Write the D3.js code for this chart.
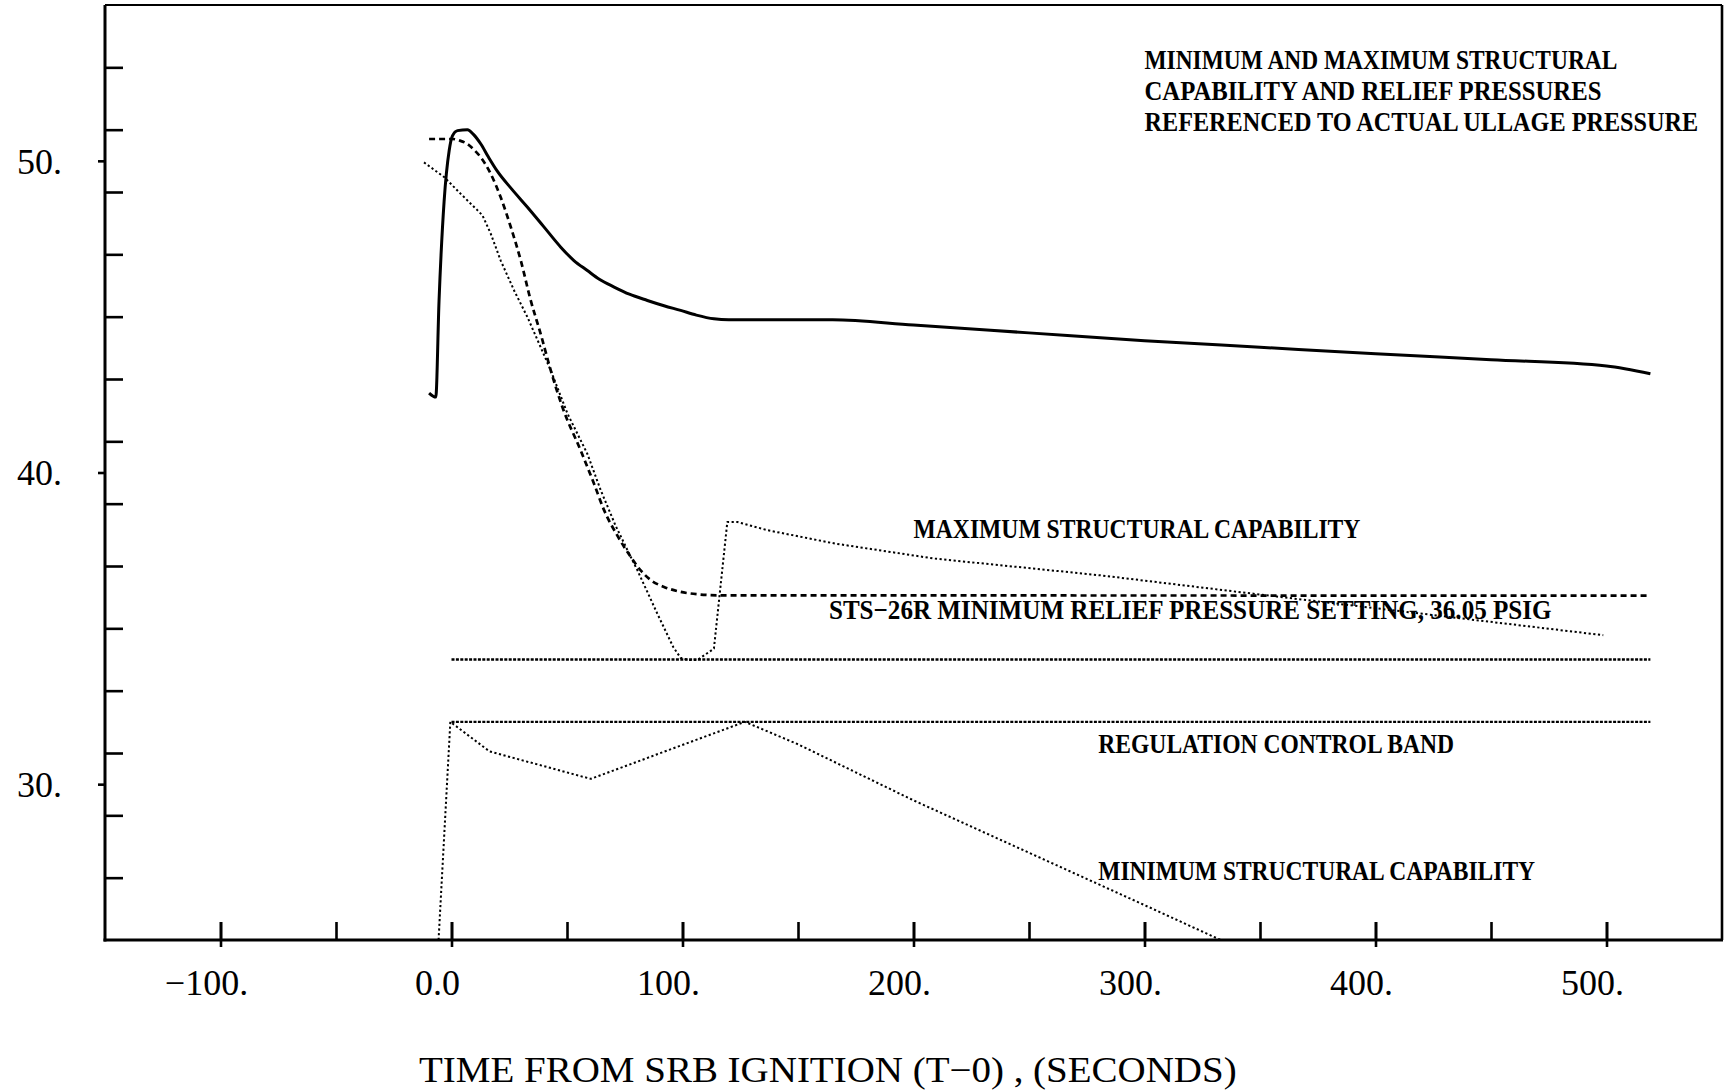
<!DOCTYPE html>
<html><head><meta charset="utf-8">
<script src="https://cdn.jsdelivr.net/npm/d3@7"></script>
<style>
html,body{margin:0;padding:0;background:#fff;}
svg{display:block;background:#fff;}
</style></head><body>
<svg id="chart" width="1728" height="1091"></svg>
<script>
// ---------------- DATA ----------------
const xDomain = [-150, 550];
const yDomain = [25, 55];
const xMinorTicks = [-100,-50,0,50,100,150,200,250,300,350,400,450,500];
const xLabelTicks = [-100,0,100,200,300,400,500];
const xTickLabels = ["\u2212100.","0.0","100.","200.","300.","400.","500."];
const yMinorTicks = [27,29,31,33,35,37,39,41,43,45,47,49,51,53];
const yLabelTicks = [30,40,50];
const yTickLabels = ["30.","40.","50."];

// solid curve (pressure)
const solidCurve = [[-9.7,42.55],[-6.8,42.42],[-5.4,45.5],[-3.2,48.7],[-1.0,50.33],[0.4,50.8],[2.6,50.97],[6.9,51.0],[9.5,50.85],[12.7,50.54],[16,50.12],[19.9,49.66],[26,49.1],[32.9,48.51],[40,47.88],[47.3,47.23],[53,46.8],[58.8,46.48],[64,46.2],[70.4,45.95],[77,45.72],[84.8,45.52],[92,45.35],[99.2,45.2],[106,45.05],[113.6,44.93],[120,44.9],[142.5,44.9],[165,44.9],[200,44.73],[250,44.48],[300,44.23],[350,44.02],[400,43.81],[450,43.62],[500,43.42],[519,43.17]];
// dashed curve (relief pressure)
const reliefCurve = [[-9.7,50.7],[0.4,50.7],[3.5,50.65],[6.9,50.54],[9.8,50.35],[12.7,50.11],[17.0,49.58],[21.3,48.83],[25.7,47.87],[30.0,46.8],[34.3,45.52],[38.6,44.45],[43.0,43.27],[48.0,42.1],[55.9,40.71],[61.7,39.64],[66,38.8],[72,37.95],[77.6,37.29],[82,36.85],[86.4,36.54],[92,36.33],[99.2,36.17],[107,36.09],[115.1,36.06],[519,36.05]];
// dotted: maximum structural capability
const maxStructural = [[-11.9,49.95],[-3.2,49.48],[4.0,48.94],[11.3,48.41],[13.4,48.25],[17.0,47.66],[21.3,46.8],[27.1,45.84],[32.9,44.98],[38.6,44.02],[43.0,43.27],[50.2,41.89],[58.8,40.6],[64.6,39.43],[71,38.3],[77.6,37.29],[80.5,36.86],[89.1,35.47],[96,34.4],[99.2,34.05],[103,33.98],[106.4,33.98],[113.6,34.35],[119.4,38.41],[123.8,38.41],[136.7,38.15],[166,37.72],[208.8,37.24],[281,36.7],[357.3,36.02],[498.6,34.78]];
// dotted: minimum structural capability
const minStructural = [[-5.6,25.0],[-0.5,32.0],[16.5,31.05],[60.3,30.17],[127,32.0],[150,31.28],[200,29.48],[250,27.8],[300,26.12],[333,25.0]];
// regulation control band
const bandUpper = [[0,34.0],[519,34.0]];
const bandLower = [[0,32.0],[519,32.0]];

const titleLines = ["MINIMUM AND MAXIMUM STRUCTURAL","CAPABILITY AND RELIEF PRESSURES","REFERENCED TO ACTUAL ULLAGE PRESSURE"];
const curveLabels = ["MAXIMUM STRUCTURAL CAPABILITY","STS\u221226R MINIMUM RELIEF PRESSURE SETTING, 36.05 PSIG","REGULATION CONTROL BAND","MINIMUM STRUCTURAL CAPABILITY"];
const xAxisTitle = "TIME FROM SRB IGNITION (T\u22120) , (SECONDS)";

// ---------------- LAYOUT ----------------
const plot = {left:105, right:1722, top:5, bottom:940};
const titleAnchor = {x:300, y:[52.95,51.95,50.96], w:[473,457,554]};
const labelAnchor = [{x:200,y:37.91,w:447},{x:163.4,y:35.31,w:723},{x:280,y:31.0,w:356},{x:280,y:26.92,w:437}];

const svg = d3.select("#chart");
svg.append("rect").attr("width",1728).attr("height",1091).attr("fill","#fff");

const x = d3.scaleLinear().domain(xDomain).range([plot.left, plot.right]);
const y = d3.scaleLinear().domain(yDomain).range([plot.bottom, plot.top]);

// ---- axes ----
const gxMinor = svg.append("g").attr("transform",`translate(0,${plot.bottom})`)
  .call(d3.axisBottom(x).tickValues(xMinorTicks).tickSize(-18).tickFormat(""));
const gxMajor = svg.append("g").attr("transform",`translate(0,${plot.bottom})`)
  .call(d3.axisBottom(x).tickValues(xLabelTicks).tickSize(7).tickPadding(22.4)
    .tickFormat((d,i)=>xTickLabels[i]));
const gyMinor = svg.append("g").attr("transform",`translate(${plot.left},0)`)
  .call(d3.axisLeft(y).tickValues(yMinorTicks).tickSize(-18).tickFormat(""));
const gyMajor = svg.append("g").attr("transform",`translate(${plot.left},0)`)
  .call(d3.axisLeft(y).tickValues(yLabelTicks).tickSize(7).tickPadding(36)
    .tickFormat((d,i)=>yTickLabels[i]));
[gxMinor,gxMajor,gyMinor,gyMajor].forEach(g=>{
  g.select(".domain").remove();
  g.selectAll(".tick line").attr("stroke","#000").attr("stroke-width",2.6);
  g.selectAll("text").attr("fill","#000").attr("font-family","'Liberation Serif', serif").attr("font-size",36);
});
gxMajor.selectAll(".tick line").attr("y1",-18);
gxMajor.selectAll("text").attr("dx",-14.5);
gyMajor.selectAll("text").attr("dy","0.34em");

// frame
svg.append("line").attr("x1",plot.left).attr("x2",plot.left).attr("y1",plot.top).attr("y2",plot.bottom+1.5).attr("stroke","#000").attr("stroke-width",3);
svg.append("line").attr("x1",plot.left-1.5).attr("x2",plot.right+1).attr("y1",plot.bottom).attr("y2",plot.bottom).attr("stroke","#000").attr("stroke-width",3);
svg.append("line").attr("x1",plot.left).attr("x2",plot.right).attr("y1",plot.top).attr("y2",plot.top).attr("stroke","#000").attr("stroke-width",2.2);
svg.append("line").attr("x1",plot.right).attr("x2",plot.right).attr("y1",plot.top).attr("y2",plot.bottom).attr("stroke","#000").attr("stroke-width",2.6);

// ---- curves ----
const line = d3.line().x(d=>x(d[0])).y(d=>y(d[1]));
const smoothLine = d3.line().x(d=>x(d[0])).y(d=>y(d[1])).curve(d3.curveMonotoneX);
svg.append("clipPath").attr("id","clip").append("rect")
  .attr("x",plot.left).attr("y",plot.top).attr("width",plot.right-plot.left).attr("height",plot.bottom-plot.top);
const gc = svg.append("g").attr("clip-path","url(#clip)");
function draw(data, w, dash, gen){
  gc.append("path").datum(data).attr("d",gen||line).attr("fill","none").attr("stroke","#000")
    .attr("stroke-width",w).attr("stroke-linejoin","round").attr("stroke-dasharray",dash||null);
}
draw(bandUpper, 2.4, "3,1.4");
draw(bandLower, 2.4, "3,1.4");
draw(maxStructural, 2.0, "2.2,2.5");
draw(minStructural, 2.0, "2.2,2.5");
draw(reliefCurve, 2.7, "6,4", smoothLine);
draw(solidCurve, 3, null, smoothLine);

// ---- annotations (condensed by horizontal scaling) ----
function condensedText(str, px, py, width, size, weight, anchor){
  const g = svg.append("g");
  const t = g.append("text").attr("x",0).attr("y",0)
    .attr("font-family","'Liberation Serif', serif").attr("font-weight",weight)
    .attr("font-size",size).attr("fill","#000").text(str);
  const natural = t.node().getComputedTextLength();
  const sx = width / natural;
  const left = anchor === "middle" ? px - width/2 : px;
  g.attr("transform",`translate(${left},${py}) scale(${sx},1)`);
  return g;
}
titleLines.forEach((t,i)=>{
  condensedText(t, x(titleAnchor.x), y(titleAnchor.y[i]), titleAnchor.w[i], 27, "bold");
});
curveLabels.forEach((t,i)=>{
  const a = labelAnchor[i];
  condensedText(t, x(a.x), y(a.y), a.w, 27, "bold");
});
condensedText(xAxisTitle, x(163), 1082, 818, 35, "normal", "middle");
</script>
</body></html>
